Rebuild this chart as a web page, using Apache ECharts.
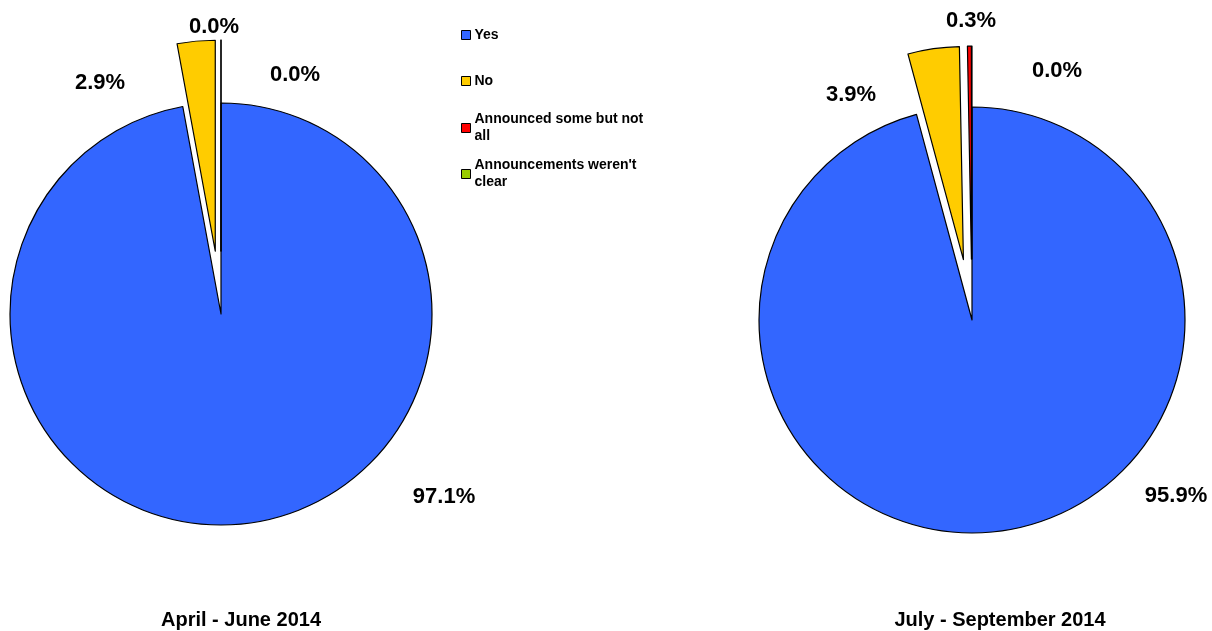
<!DOCTYPE html>
<html>
<head>
<meta charset="utf-8">
<script src="https://cdn.jsdelivr.net/npm/echarts@6/dist/echarts.min.js"></script>
<style>
  html, body { margin: 0; padding: 0; background: #fff; }
  #chart { width: 1212px; height: 631px; }
</style>
</head>
<body>
<div id="chart"></div>
<script>
// Answer categories and their shares (%) for each quarter
const categories = ['Yes', 'No', 'Announced some but not all', "Announcements weren't clear"];
const periods = ['April - June 2014', 'July - September 2014'];
const aprJun2014 = [97.1, 2.9, 0.0, 0.0];
const julSep2014 = [95.9, 3.9, 0.3, 0.0];

// Presentation settings
const colors = ['#3366FF', '#FFCC00', '#FF0000', '#99CC00'];
const legendText = {
  'Yes': 'Yes',
  'No': 'No',
  'Announced some but not all': 'Announced some but not\nall',
  "Announcements weren't clear": "Announcements weren't\nclear"
};
const FONT = '"Liberation Sans", Arial, Helvetica, sans-serif';

const pies = [
  { values: aprJun2014, center: [221, 314], radius: 211, offset: 63,
    explode: [false, true, true, true],
    labelAt: [[444, 497], [100, 83], [214, 27], [295, 75]],
    titleAt: [241, 620] },
  { values: julSep2014, center: [972, 320], radius: 213, offset: 61,
    explode: [false, true, true, true],
    labelAt: [[1176, 496], [851, 95], [971, 21], [1057, 71]],
    titleAt: [1000, 620] }
];

const chart = echarts.init(document.getElementById('chart'), null, { renderer: 'canvas' });

const edge = { borderColor: '#000', borderWidth: 1.2 };

// Filled sectors (the non-"Yes" slices pulled out from the centre)
const sectorSeries = pies.map((p, si) => ({
  type: 'pie',
  name: periods[si],
  center: p.center,
  radius: [0, p.radius],
  startAngle: 90,
  clockwise: true,
  selectedMode: 'multiple',
  selectedOffset: p.offset,
  animation: false,
  itemStyle: edge,
  label: { show: false },
  labelLine: { show: false },
  emphasis: { disabled: true },
  select: { itemStyle: edge, label: { show: false } },
  data: categories.map((name, i) => ({
    name: name,
    value: p.values[i],
    selected: p.explode[i],
    itemStyle: { color: colors[i] }
  }))
}));

// Percentage labels, placed beside their slices
const labelSeries = pies.map((p, si) => ({
  type: 'pie',
  name: periods[si] + ' labels',
  center: p.center,
  radius: [0, p.radius],
  startAngle: 90,
  clockwise: true,
  silent: true,
  animation: false,
  z: 5,
  avoidLabelOverlap: false,
  itemStyle: { color: 'rgba(0,0,0,0)', borderWidth: 0 },
  label: {
    show: true,
    position: 'outside',
    color: '#000',
    fontFamily: FONT,
    fontWeight: 'bold',
    fontSize: 22,
    formatter: d => d.value.toFixed(1) + '%'
  },
  labelLine: { show: false },
  labelLayout: params => {
    const pos = pies[si].labelAt[params.dataIndex];
    return { x: pos[0], y: pos[1], align: 'center', verticalAlign: 'middle' };
  },
  emphasis: { disabled: true },
  data: categories.map((name, i) => ({ name: name, value: p.values[i] }))
}));

// One legend per entry so wrapped names keep their marker beside the first line
const legendRows = [35, 81, 128, 174];
const LINE = 17;
const legends = categories.map((name, i) => {
  const wrapped = legendText[name].indexOf('\n') >= 0;
  return {
    data: [name],
    orient: 'vertical',
    left: 461,
    top: legendRows[i] - (wrapped ? LINE * 1.5 : LINE / 2),
    padding: 0,
    itemWidth: 9,
    itemHeight: 9,
    itemGap: 4,
    icon: 'rect',
    selectedMode: false,
    itemStyle: { color: colors[i], borderColor: '#000', borderWidth: 1 },
    formatter: n => legendText[n],
    textStyle: {
      color: '#000',
      fontFamily: FONT,
      fontWeight: 'bold',
      fontSize: 14,
      lineHeight: LINE,
      padding: wrapped ? [LINE, 0, 0, -1] : [0, 0, 0, -1]
    }
  };
});

const titles = pies.map((p, i) => ({
  type: 'text',
  x: p.titleAt[0],
  y: p.titleAt[1],
  style: {
    text: periods[i],
    align: 'center',
    verticalAlign: 'middle',
    fill: '#000',
    font: 'bold 20px ' + FONT
  }
}));

chart.setOption({
  backgroundColor: '#fff',
  animation: false,
  legend: legends,
  graphic: titles,
  series: sectorSeries.concat(labelSeries)
});
</script>
</body>
</html>
